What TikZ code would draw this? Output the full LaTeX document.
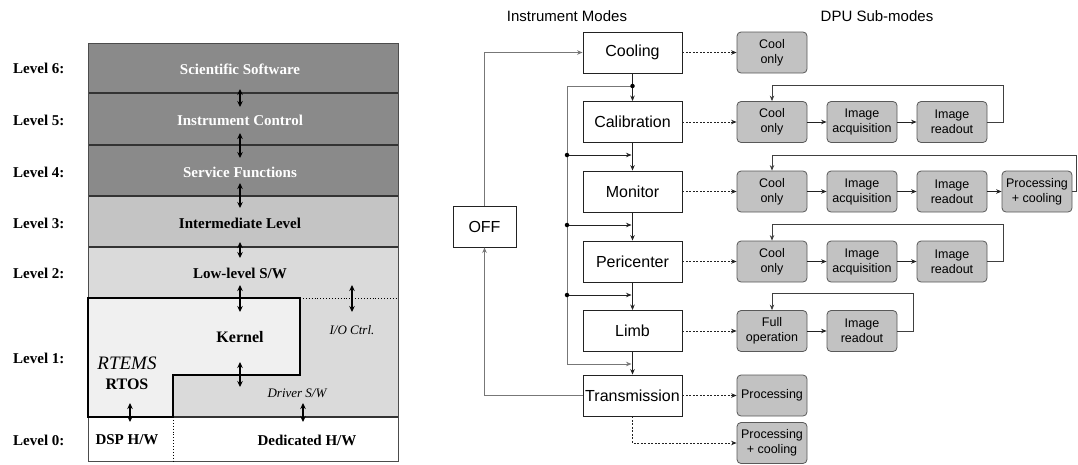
\documentclass[tikz,border=0pt]{standalone}
\usepackage{fontspec}
\setmainfont{Liberation Serif}
\setsansfont{Liberation Sans}
\usetikzlibrary{arrows.meta}
\definecolor{lvdark}{HTML}{8A8A8A}
\definecolor{lvmid}{HTML}{C4C4C4}
\definecolor{lvlight}{HTML}{DADADA}
\definecolor{kern}{HTML}{F0F0F0}
\definecolor{subfill}{HTML}{C2C2C2}
\definecolor{lnk}{HTML}{222222}
\definecolor{busc}{HTML}{777777}
\definecolor{sep}{HTML}{333333}
\begin{document}
\begin{tikzpicture}[x=1pt,y=-1pt,
  lvtxt/.style={font=\bfseries\fontsize{15}{18}\selectfont, inner sep=0pt},
  lvlab/.style={anchor=west, font=\bfseries\fontsize{15}{18}\selectfont, inner sep=0pt},
  ittxt/.style={font=\itshape\fontsize{13}{16}\selectfont, inner sep=0pt},
  dar/.style={{Stealth[length=6pt,width=5.5pt]}-{Stealth[length=6pt,width=5.5pt]}, line width=1.1pt},
  lvbox/.style={draw=sep, line width=1.4pt},
  modebox/.style={draw=lnk, line width=0.9pt, fill=white, minimum width=99pt, minimum height=41pt, font=\sffamily\fontsize{16}{18}\selectfont, inner sep=1pt},
  subbox/.style={draw=black!65, fill=subfill, rounded corners=4pt, minimum width=70pt, minimum height=41pt, align=center, font=\sffamily\fontsize{12.5}{15}\selectfont, inner sep=1pt, line width=0.8pt},
  arr/.style={-{Stealth[length=5.5pt,width=4.5pt]}, line width=0.8pt, draw=lnk},
  darr/.style={arr, dash pattern=on 2pt off 1.5pt},
  busl/.style={arr, draw=busc, line width=1pt},
  loopl/.style={arr, draw=black!75},
  hdr/.style={font=\sffamily\fontsize{15}{18}\selectfont, inner sep=0pt},
  jdot/.style={circle, fill=black, inner sep=0pt, minimum size=4.5pt}
]
\useasboundingbox (0,0) rectangle (1078,464);

% ---------------- left: software levels ----------------
\fill[lvdark] (88,43) rectangle (398,196);
\fill[lvmid] (88,196) rectangle (398,247);
\fill[lvlight] (88,247) rectangle (398,417);
\fill[white] (88,417) rectangle (398,461);
\draw[lvbox] (88,93) -- (398,93);
\draw[lvbox] (88,145) -- (398,145);
\draw[lvbox] (88,196) -- (398,196);
\draw[lvbox] (88,247) -- (398,247);
\draw[lvbox] (88,417) -- (398,417);
\draw[draw=black!70, line width=1pt] (88,43) rectangle (398,461);
\draw[fill=kern, line width=1.5pt] (88,298) -- (300,298) -- (300,375) -- (173,375) -- (173,417) -- (88,417) -- cycle;
\draw[line width=0.9pt, dotted] (300,298) -- (398,298);
\draw[line width=0.9pt, dotted] (173,417) -- (173,461);

\node[lvlab] (l6) at (13,68) {Level 6:};
\node[lvlab] (l5) at (13,120) {Level 5:};
\node[lvlab] (l4) at (13,172) {Level 4:};
\node[lvlab] (l3) at (13,223) {Level 3:};
\node[lvlab] (l2) at (13,273) {Level 2:};
\node[lvlab] (l1) at (13,358) {Level 1:};
\node[lvlab] (l0) at (13,440) {Level 0:};

\node[lvtxt, text=white] (sci) at (240,69) {Scientific Software};
\node[lvtxt, text=white] (ictl) at (240,120) {Instrument Control};
\node[lvtxt, text=white] (svc) at (240,172) {Service Functions};
\node[lvtxt] (inter) at (240,223) {Intermediate Level};
\node[lvtxt] (low) at (240,273) {Low-level S/W};
\node[lvtxt, font=\bfseries\fontsize{16}{19}\selectfont] (kernel) at (240,337) {Kernel};
\node[ittxt] (ioc) at (352,330) {I/O Ctrl.};
\node[inner sep=0pt, font=\itshape\fontsize{19}{22}\selectfont] (rtems) at (127,363) {RTEMS};
\node[lvtxt, font=\bfseries\fontsize{16}{19}\selectfont] (rtos) at (127,384) {RTOS};
\node[ittxt] (drv) at (297,393) {Driver S/W};
\node[lvtxt] (dsp) at (127,440) {DSP H/W};
\node[lvtxt] (ded) at (307,440) {Dedicated H/W};

\coordinate (a1t) at (240,89);  \coordinate (a1b) at (240,107);
\coordinate (a2t) at (240,133); \coordinate (a2b) at (240,158);
\coordinate (a3t) at (240,183); \coordinate (a3b) at (240,208);
\coordinate (a4t) at (240,242); \coordinate (a4b) at (240,258);
\coordinate (a5t) at (240,285); \coordinate (a5b) at (240,312);
\coordinate (a6t) at (352,285); \coordinate (a6b) at (352,312);
\coordinate (a7t) at (240,362); \coordinate (a7b) at (240,387);
\coordinate (a8t) at (130,403); \coordinate (a8b) at (130,422);
\coordinate (a9t) at (303,403); \coordinate (a9b) at (303,422);
\foreach \i in {1,...,9} {\draw[dar] (a\i t) -- (a\i b);}

% ---------------- right: instrument modes ----------------
\node[hdr] (h1) at (567,16) {Instrument Modes};
\node[hdr] (h2) at (877,16) {DPU Sub-modes};

\node[modebox] (cool) at (632.5,52.5) {Cooling};
\node[modebox] (cal) at (632.5,122) {Calibration};
\node[modebox] (mon) at (632.5,191.5) {Monitor};
\node[modebox] (peri) at (632.5,261.5) {Pericenter};
\node[modebox] (limb) at (632.5,331) {Limb};
\node[modebox] (trans) at (632.5,395.5) {Transmission};
\node[modebox, minimum width=63pt] (off) at (484.5,226.5) {OFF};

\draw[arr] (cool) -- (cal);
\draw[arr] (cal) -- (mon);
\draw[arr] (mon) -- (peri);
\draw[arr] (peri) -- (limb);
\draw[arr] (limb) -- (trans);

\coordinate (j0) at (632.5,86);
\coordinate (bt) at (567,86);
\coordinate (bb) at (567,364);
\coordinate (k4) at (631.5,364);
\coordinate (b1) at (567,155); \coordinate (k1) at (631.5,155);
\coordinate (b2) at (567,225); \coordinate (k2) at (631.5,225);
\coordinate (b3) at (567,295); \coordinate (k3) at (631.5,295);
\draw[busl] (j0) -- (bt) -- (bb) -- (k4);
\draw[arr] (b1) -- (k1);
\draw[arr] (b2) -- (k2);
\draw[arr] (b3) -- (k3);
\node[jdot] (d0) at (j0) {};
\node[jdot] (d1) at (b1) {};
\node[jdot] (d2) at (b2) {};
\node[jdot] (d3) at (b3) {};

\draw[busl] (off.north) |- (cool.west);
\draw[busl] (trans.west) -| (off.south);

% sub-modes
\node[subbox] (s0a) at (772,52.5) {Cool\\only};

\node[subbox] (s1a) at (772,122) {Cool\\only};
\node[subbox] (s1b) at (862,122) {Image\\acquisition};
\node[subbox] (s1c) at (952,122) {Image\\readout};

\node[subbox] (s2a) at (772,191.5) {Cool\\only};
\node[subbox] (s2b) at (862,191.5) {Image\\acquisition};
\node[subbox] (s2c) at (952,191.5) {Image\\readout};
\node[subbox] (s2d) at (1037,191.5) {Processing\\+ cooling};

\node[subbox] (s3a) at (772,261.5) {Cool\\only};
\node[subbox] (s3b) at (862,261.5) {Image\\acquisition};
\node[subbox] (s3c) at (952,261.5) {Image\\readout};

\node[subbox] (s4a) at (772,331) {Full\\operation};
\node[subbox] (s4b) at (862,331) {Image\\readout};

\node[subbox] (s5) at (772,395.5) {Processing};
\node[subbox] (s6) at (772,443) {Processing\\+ cooling};

\draw[darr] (cool) -- (s0a);
\draw[darr] (cal) -- (s1a);
\draw[darr] (mon) -- (s2a);
\draw[darr] (peri) -- (s3a);
\draw[darr] (limb) -- (s4a);
\draw[darr] (trans) -- (s5);
\draw[darr] (trans.south) |- (s6.west);

\draw[arr] (s1a) -- (s1b);
\draw[arr] (s1b) -- (s1c);
\draw[arr] (s2a) -- (s2b);
\draw[arr] (s2b) -- (s2c);
\draw[arr] (s2c) -- (s2d);
\draw[arr] (s3a) -- (s3b);
\draw[arr] (s3b) -- (s3c);
\draw[arr] (s4a) -- (s4b);

\coordinate (r1) at (1003,85);
\coordinate (r2) at (1076,155);
\coordinate (r3) at (1003,224);
\coordinate (r4) at (913,293);
\draw[loopl] (s1c.east) -| (r1) -| (s1a.north);
\draw[loopl] (s2d.east) -| (r2) -| (s2a.north);
\draw[loopl] (s3c.east) -| (r3) -| (s3a.north);
\draw[loopl] (s4b.east) -| (r4) -| (s4a.north);
\end{tikzpicture}
\end{document}
